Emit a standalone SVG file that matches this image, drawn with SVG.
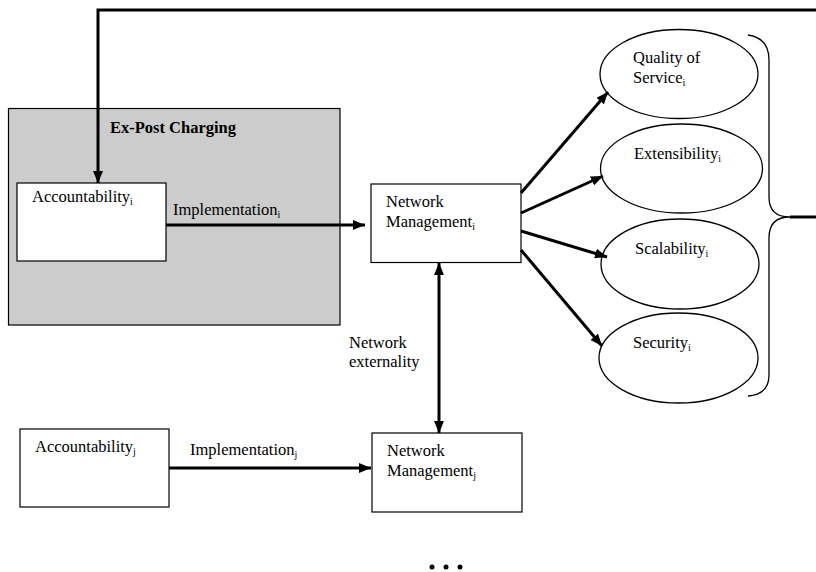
<svg xmlns="http://www.w3.org/2000/svg" width="816" height="572" viewBox="0 0 816 572">
<style>
text{font-family:"Liberation Serif","Times New Roman",serif;font-size:16.5px;fill:#000}
.b{font-weight:bold}
.sub{font-size:10px}
.box{fill:#fff;stroke:#000;stroke-width:1.2}
.ell{fill:#fff;stroke:#000;stroke-width:1.3}
.arr{fill:none;stroke:#000;stroke-width:3;marker-end:url(#ah)}
</style>
<defs>
<marker id="ah" viewBox="0 0 12 10" refX="12" refY="5" markerWidth="12" markerHeight="10" markerUnits="userSpaceOnUse" orient="auto-start-reverse">
<path d="M0,0 L12,5 L0,10 z" fill="#000"/>
</marker>
</defs>
<g id="ex-post-charging">
<rect x="8.5" y="108.5" width="331.5" height="216.5" fill="#cccccc" stroke="#000" stroke-width="1.2"/>
<text class="b" x="110" y="133">Ex-Post Charging</text>
</g>
<g id="accountability-i">
<rect class="box" x="17" y="183" width="149" height="78"/>
<text x="32" y="202">Accountability<tspan class="sub" dy="3">i</tspan></text>
</g>
<g id="nm-i">
<rect class="box" x="371" y="184" width="150" height="78.5"/>
<text x="386" y="207">Network</text>
<text x="386" y="227">Management<tspan class="sub" dy="3">i</tspan></text>
</g>
<g id="qos">
<ellipse class="ell" cx="679" cy="74" rx="79" ry="44.5"/>
<text x="633" y="63">Quality of</text>
<text x="633" y="83">Service<tspan class="sub" dy="3">i</tspan></text>
</g>
<g id="extensibility">
<ellipse class="ell" cx="681.5" cy="168.5" rx="81" ry="44.5"/>
<text x="634" y="159">Extensibility<tspan class="sub" dy="3">i</tspan></text>
</g>
<g id="scalability">
<ellipse class="ell" cx="680" cy="264" rx="79" ry="45"/>
<text x="635" y="254">Scalability<tspan class="sub" dy="3">i</tspan></text>
</g>
<g id="security">
<ellipse class="ell" cx="678.5" cy="358" rx="79.5" ry="45"/>
<text x="633" y="348">Security<tspan class="sub" dy="3">i</tspan></text>
</g>
<g id="brace">
<path d="M748,35 C762,37 769,45 769,60 L769,197 C769,210 776,217 790,217 C776,217 769,224 769,238 L769,375 C769,388 762,395 748,396" fill="none" stroke="#000" stroke-width="1.3"/>
</g>
<g id="accountability-j">
<rect class="box" x="20" y="429" width="149" height="78"/>
<text x="35" y="452">Accountability<tspan class="sub" dy="3">j</tspan></text>
</g>
<g id="nm-j">
<rect class="box" x="372" y="433" width="150" height="79"/>
<text x="387" y="456">Network</text>
<text x="387" y="476">Management<tspan class="sub" dy="3">j</tspan></text>
</g>
<g id="connectors">
<polyline class="arr" points="816,10 98,10 98,183"/>
<line class="arr" x1="166" y1="225" x2="365" y2="225"/>
<text x="173" y="215">Implementation<tspan class="sub" dy="3">i</tspan></text>
<line class="arr" x1="521" y1="193" x2="608" y2="92"/>
<line class="arr" x1="521" y1="213" x2="603" y2="176"/>
<line class="arr" x1="521" y1="231" x2="607" y2="257"/>
<line class="arr" x1="521" y1="250" x2="602" y2="346"/>
<line class="arr" x1="439" y1="263" x2="439" y2="433" style="marker-start:url(#ah)"/>
<text x="349" y="348">Network</text>
<text x="349" y="367">externality</text>
<line class="arr" x1="169" y1="468" x2="371" y2="468"/>
<text x="190" y="455">Implementation<tspan class="sub" dy="3">j</tspan></text>
<line x1="790" y1="217" x2="816" y2="217" stroke="#000" stroke-width="3"/>
</g>
<g id="ellipsis" fill="#000">
<circle cx="432" cy="567" r="2.5"/>
<circle cx="446" cy="567" r="2.5"/>
<circle cx="460" cy="567" r="2.5"/>
</g>
</svg>
